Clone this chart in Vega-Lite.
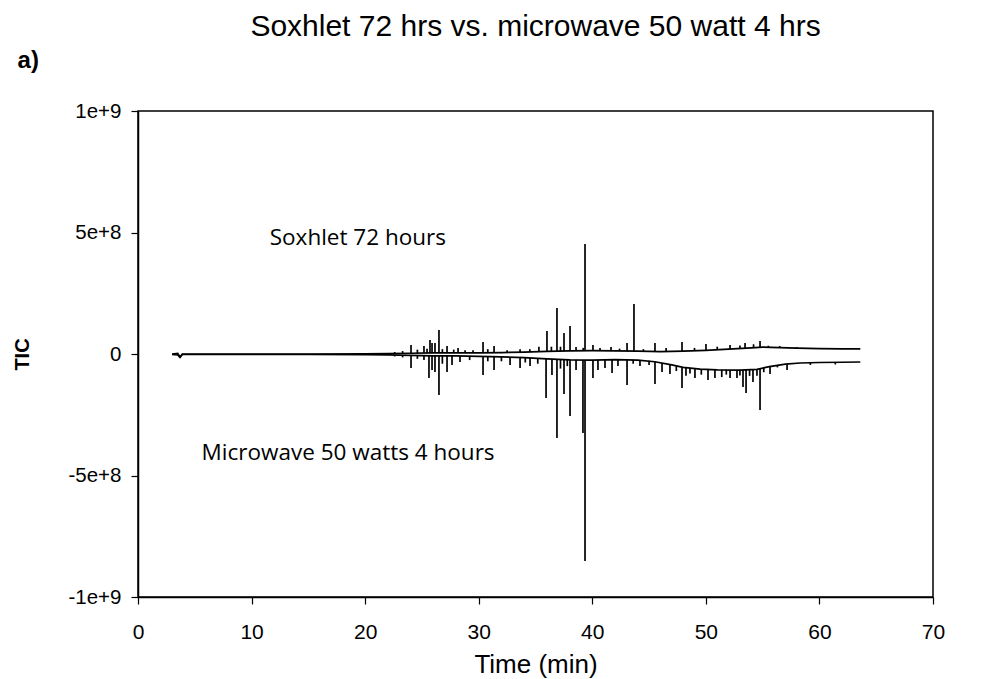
{
  "$schema": "https://vega.github.io/schema/vega-lite/v6.json",
  "width": 795,
  "height": 486,
  "autosize": "none",
  "padding": {"left": 138, "top": 111, "right": 64, "bottom": 82},
  "background": "white",
  "config": {
    "view": {"stroke": "black", "strokeWidth": 1.5},
    "font": "Liberation Sans"
  },
  "title": {
    "text": "Soxhlet 72 hrs vs. microwave 50 watt 4 hrs",
    "font": "Liberation Sans",
    "fontSize": 30,
    "fontWeight": "normal",
    "color": "black",
    "anchor": "middle",
    "offset": 7
  },
  "datasets": {
    "baseline": [
      {"t": 3.0, "v": 0, "series": "Soxhlet"},
      {"t": 3.5, "v": 2000000, "series": "Soxhlet"},
      {"t": 3.7, "v": -12000000, "series": "Soxhlet"},
      {"t": 3.9, "v": 0, "series": "Soxhlet"},
      {"t": 5, "v": 0, "series": "Soxhlet"},
      {"t": 10, "v": 0, "series": "Soxhlet"},
      {"t": 15, "v": 0, "series": "Soxhlet"},
      {"t": 20, "v": 1000000, "series": "Soxhlet"},
      {"t": 22, "v": 2000000, "series": "Soxhlet"},
      {"t": 24, "v": 3000000, "series": "Soxhlet"},
      {"t": 26, "v": 5000000, "series": "Soxhlet"},
      {"t": 28, "v": 5000000, "series": "Soxhlet"},
      {"t": 30, "v": 5000000, "series": "Soxhlet"},
      {"t": 32, "v": 6000000, "series": "Soxhlet"},
      {"t": 34, "v": 8000000, "series": "Soxhlet"},
      {"t": 36, "v": 11000000, "series": "Soxhlet"},
      {"t": 38, "v": 13000000, "series": "Soxhlet"},
      {"t": 40, "v": 14000000, "series": "Soxhlet"},
      {"t": 42, "v": 13000000, "series": "Soxhlet"},
      {"t": 44, "v": 12000000, "series": "Soxhlet"},
      {"t": 46, "v": 10000000, "series": "Soxhlet"},
      {"t": 48, "v": 12000000, "series": "Soxhlet"},
      {"t": 50, "v": 15000000, "series": "Soxhlet"},
      {"t": 52, "v": 20000000, "series": "Soxhlet"},
      {"t": 54, "v": 25000000, "series": "Soxhlet"},
      {"t": 55, "v": 28000000, "series": "Soxhlet"},
      {"t": 56.5, "v": 26000000, "series": "Soxhlet"},
      {"t": 58, "v": 24000000, "series": "Soxhlet"},
      {"t": 60, "v": 22000000, "series": "Soxhlet"},
      {"t": 62, "v": 21000000, "series": "Soxhlet"},
      {"t": 63.6, "v": 21000000, "series": "Soxhlet"},
      {"t": 3.0, "v": -2000000, "series": "Microwave"},
      {"t": 3.5, "v": -4000000, "series": "Microwave"},
      {"t": 3.7, "v": -14000000, "series": "Microwave"},
      {"t": 3.9, "v": -2000000, "series": "Microwave"},
      {"t": 5, "v": -2000000, "series": "Microwave"},
      {"t": 10, "v": -2000000, "series": "Microwave"},
      {"t": 15, "v": -2000000, "series": "Microwave"},
      {"t": 20, "v": -3000000, "series": "Microwave"},
      {"t": 22, "v": -4000000, "series": "Microwave"},
      {"t": 24, "v": -6000000, "series": "Microwave"},
      {"t": 26, "v": -8000000, "series": "Microwave"},
      {"t": 28, "v": -8000000, "series": "Microwave"},
      {"t": 30, "v": -10000000, "series": "Microwave"},
      {"t": 32, "v": -12000000, "series": "Microwave"},
      {"t": 34, "v": -15000000, "series": "Microwave"},
      {"t": 36, "v": -20000000, "series": "Microwave"},
      {"t": 38, "v": -24000000, "series": "Microwave"},
      {"t": 40, "v": -25000000, "series": "Microwave"},
      {"t": 42, "v": -23000000, "series": "Microwave"},
      {"t": 44, "v": -25000000, "series": "Microwave"},
      {"t": 45.5, "v": -32000000, "series": "Microwave"},
      {"t": 47, "v": -45000000, "series": "Microwave"},
      {"t": 48, "v": -55000000, "series": "Microwave"},
      {"t": 49.5, "v": -62000000, "series": "Microwave"},
      {"t": 51, "v": -65000000, "series": "Microwave"},
      {"t": 53, "v": -66000000, "series": "Microwave"},
      {"t": 54.5, "v": -63000000, "series": "Microwave"},
      {"t": 55.6, "v": -52000000, "series": "Microwave"},
      {"t": 57, "v": -42000000, "series": "Microwave"},
      {"t": 58.3, "v": -37000000, "series": "Microwave"},
      {"t": 60, "v": -35000000, "series": "Microwave"},
      {"t": 62, "v": -34000000, "series": "Microwave"},
      {"t": 63.6, "v": -33000000, "series": "Microwave"}
    ],
    "peaks": [
      {"t": 22.6, "base": 2000000, "peak": 8000000},
      {"t": 23.3, "base": 2000000, "peak": 12000000},
      {"t": 24.04, "base": 3000000, "peak": 37000000},
      {"t": 24.6, "base": 4000000, "peak": 18000000},
      {"t": 25.18, "base": 5000000, "peak": 33000000},
      {"t": 25.45, "base": 5000000, "peak": 22000000},
      {"t": 25.71, "base": 5000000, "peak": 58000000},
      {"t": 25.89, "base": 5000000, "peak": 45000000},
      {"t": 26.15, "base": 5000000, "peak": 45000000},
      {"t": 26.5, "base": 5000000, "peak": 99000000},
      {"t": 26.8, "base": 5000000, "peak": 20000000},
      {"t": 27.21, "base": 5000000, "peak": 33000000},
      {"t": 27.8, "base": 5000000, "peak": 18000000},
      {"t": 28.18, "base": 5000000, "peak": 25000000},
      {"t": 28.8, "base": 5000000, "peak": 15000000},
      {"t": 29.5, "base": 5000000, "peak": 15000000},
      {"t": 30.38, "base": 5000000, "peak": 49000000},
      {"t": 30.8, "base": 5000000, "peak": 20000000},
      {"t": 31.35, "base": 6000000, "peak": 33000000},
      {"t": 32.5, "base": 6000000, "peak": 15000000},
      {"t": 33.64, "base": 7000000, "peak": 20000000},
      {"t": 34.5, "base": 8000000, "peak": 20000000},
      {"t": 35.3, "base": 10000000, "peak": 30000000},
      {"t": 36.01, "base": 11000000, "peak": 95000000},
      {"t": 36.4, "base": 12000000, "peak": 30000000},
      {"t": 36.89, "base": 12000000, "peak": 189000000},
      {"t": 37.2, "base": 12000000, "peak": 30000000},
      {"t": 37.51, "base": 12000000, "peak": 86000000},
      {"t": 38.04, "base": 13000000, "peak": 115000000},
      {"t": 38.57, "base": 13000000, "peak": 29000000},
      {"t": 39.2, "base": 14000000, "peak": 25000000},
      {"t": 39.36, "base": 14000000, "peak": 453000000},
      {"t": 40.06, "base": 14000000, "peak": 37000000},
      {"t": 40.68, "base": 14000000, "peak": 25000000},
      {"t": 41.65, "base": 13000000, "peak": 29000000},
      {"t": 42.4, "base": 13000000, "peak": 22000000},
      {"t": 43.06, "base": 12000000, "peak": 45000000},
      {"t": 43.67, "base": 12000000, "peak": 206000000},
      {"t": 44.5, "base": 11000000, "peak": 20000000},
      {"t": 45.52, "base": 10000000, "peak": 45000000},
      {"t": 46.5, "base": 10000000, "peak": 25000000},
      {"t": 47.9, "base": 12000000, "peak": 49000000},
      {"t": 49.0, "base": 13000000, "peak": 25000000},
      {"t": 50.01, "base": 15000000, "peak": 41000000},
      {"t": 51.0, "base": 17000000, "peak": 30000000},
      {"t": 52.13, "base": 20000000, "peak": 37000000},
      {"t": 53.0, "base": 22000000, "peak": 35000000},
      {"t": 53.45, "base": 24000000, "peak": 45000000},
      {"t": 54.2, "base": 25000000, "peak": 40000000},
      {"t": 54.77, "base": 28000000, "peak": 53000000},
      {"t": 55.5, "base": 27000000, "peak": 34000000},
      {"t": 56.5, "base": 26000000, "peak": 33000000},
      {"t": 58.0, "base": 24000000, "peak": 28000000},
      {"t": 22.6, "base": -4000000, "peak": -10000000},
      {"t": 23.3, "base": -5000000, "peak": -14000000},
      {"t": 24.04, "base": -6000000, "peak": -58000000},
      {"t": 24.6, "base": -7000000, "peak": -20000000},
      {"t": 25.18, "base": -8000000, "peak": -25000000},
      {"t": 25.62, "base": -8000000, "peak": -99000000},
      {"t": 25.89, "base": -8000000, "peak": -66000000},
      {"t": 26.15, "base": -8000000, "peak": -74000000},
      {"t": 26.5, "base": -8000000, "peak": -169000000},
      {"t": 26.8, "base": -8000000, "peak": -40000000},
      {"t": 27.21, "base": -8000000, "peak": -74000000},
      {"t": 27.65, "base": -8000000, "peak": -45000000},
      {"t": 28.35, "base": -8000000, "peak": -33000000},
      {"t": 29.2, "base": -9000000, "peak": -25000000},
      {"t": 30.38, "base": -10000000, "peak": -86000000},
      {"t": 30.8, "base": -10000000, "peak": -30000000},
      {"t": 31.35, "base": -11000000, "peak": -66000000},
      {"t": 32.0, "base": -12000000, "peak": -30000000},
      {"t": 32.76, "base": -13000000, "peak": -45000000},
      {"t": 33.64, "base": -14000000, "peak": -58000000},
      {"t": 34.1, "base": -15000000, "peak": -35000000},
      {"t": 34.52, "base": -16000000, "peak": -49000000},
      {"t": 35.2, "base": -18000000, "peak": -40000000},
      {"t": 35.93, "base": -20000000, "peak": -181000000},
      {"t": 36.45, "base": -21000000, "peak": -86000000},
      {"t": 36.89, "base": -22000000, "peak": -346000000},
      {"t": 37.2, "base": -22000000, "peak": -60000000},
      {"t": 37.51, "base": -23000000, "peak": -165000000},
      {"t": 37.8, "base": -23000000, "peak": -50000000},
      {"t": 38.04, "base": -24000000, "peak": -255000000},
      {"t": 38.57, "base": -24000000, "peak": -66000000},
      {"t": 39.18, "base": -25000000, "peak": -325000000},
      {"t": 39.36, "base": -25000000, "peak": -852000000},
      {"t": 40.06, "base": -25000000, "peak": -99000000},
      {"t": 40.5, "base": -25000000, "peak": -66000000},
      {"t": 41.12, "base": -24000000, "peak": -58000000},
      {"t": 41.74, "base": -24000000, "peak": -78000000},
      {"t": 42.26, "base": -23000000, "peak": -49000000},
      {"t": 43.06, "base": -23000000, "peak": -128000000},
      {"t": 43.6, "base": -24000000, "peak": -40000000},
      {"t": 44.2, "base": -25000000, "peak": -49000000},
      {"t": 45.0, "base": -28000000, "peak": -45000000},
      {"t": 45.52, "base": -32000000, "peak": -123000000},
      {"t": 46.14, "base": -38000000, "peak": -74000000},
      {"t": 46.84, "base": -44000000, "peak": -82000000},
      {"t": 47.4, "base": -50000000, "peak": -70000000},
      {"t": 47.9, "base": -54000000, "peak": -140000000},
      {"t": 48.25, "base": -56000000, "peak": -90000000},
      {"t": 48.6, "base": -58000000, "peak": -80000000},
      {"t": 49.04, "base": -60000000, "peak": -99000000},
      {"t": 49.6, "base": -62000000, "peak": -85000000},
      {"t": 50.19, "base": -63000000, "peak": -107000000},
      {"t": 50.8, "base": -64000000, "peak": -99000000},
      {"t": 51.4, "base": -65000000, "peak": -95000000},
      {"t": 51.8, "base": -65000000, "peak": -85000000},
      {"t": 52.13, "base": -66000000, "peak": -99000000},
      {"t": 52.74, "base": -66000000, "peak": -99000000},
      {"t": 53.0, "base": -66000000, "peak": -88000000},
      {"t": 53.27, "base": -66000000, "peak": -136000000},
      {"t": 53.54, "base": -65000000, "peak": -160000000},
      {"t": 53.85, "base": -64000000, "peak": -90000000},
      {"t": 54.15, "base": -63000000, "peak": -115000000},
      {"t": 54.5, "base": -63000000, "peak": -90000000},
      {"t": 54.77, "base": -60000000, "peak": -230000000},
      {"t": 55.1, "base": -56000000, "peak": -75000000},
      {"t": 55.65, "base": -52000000, "peak": -82000000},
      {"t": 56.3, "base": -46000000, "peak": -55000000},
      {"t": 57.15, "base": -42000000, "peak": -66000000},
      {"t": 59.2, "base": -35000000, "peak": -45000000},
      {"t": 61.4, "base": -34000000, "peak": -43000000}
    ],
    "labels": [
      {"t": 11.6, "v": 477000000, "label": "Soxhlet 72 hours"},
      {"t": 5.6, "v": -407000000, "label": "Microwave 50 watts 4 hours"}
    ],
    "panel": [
      {"t": -10.6, "v": 1205000000, "label": "a)"}
    ]
  },
  "encoding": {
    "x": {
      "field": "t",
      "type": "quantitative",
      "scale": {"domain": [0, 70], "nice": false, "zero": false},
      "axis": {
        "values": [0, 10, 20, 30, 40, 50, 60, 70],
        "grid": false,
        "labelFlush": false,
        "domainColor": "black",
        "domainWidth": 1.5,
        "tickColor": "black",
        "tickSize": 7,
        "tickWidth": 1.2,
        "labelColor": "black",
        "labelFont": "Liberation Sans",
        "labelFontSize": 21,
        "labelPadding": 17,
        "title": "Time (min)",
        "titleFont": "Liberation Sans",
        "titleFontSize": 26,
        "titleFontWeight": "normal",
        "titleColor": "black",
        "titleX": 397.5,
        "titleY": 67,
        "titleAlign": "center",
        "titleBaseline": "middle"
      }
    }
  },
  "layer": [
    {
      "data": {"name": "baseline"},
      "mark": {"type": "line", "color": "black", "strokeWidth": 1.7, "clip": true},
      "encoding": {
        "y": {
          "field": "v",
          "type": "quantitative",
          "scale": {"domain": [-1000000000, 1000000000], "nice": false, "zero": false},
          "axis": {
            "values": [-1000000000, -500000000, 0, 500000000, 1000000000],
            "labelExpr": "datum.value == 0 ? '0' : (datum.value < 0 ? '-' : '') + (abs(datum.value) >= 1000000000 ? '1e+9' : '5e+8')",
            "grid": false,
            "labelFlush": false,
            "domainColor": "black",
            "domainWidth": 1.5,
            "tickColor": "black",
            "tickSize": 7,
            "tickWidth": 1.2,
            "labelColor": "black",
            "labelFont": "Liberation Sans",
            "labelFontSize": 20.5,
            "labelPadding": 10,
            "title": "TIC",
            "titleFont": "Liberation Sans",
            "titleFontSize": 20,
            "titleFontWeight": "bold",
            "titleColor": "black",
            "titleX": -116,
            "titleY": 243,
            "titleAngle": -90,
            "titleAlign": "center",
            "titleBaseline": "middle"
          }
        },
        "detail": {"field": "series", "type": "nominal"}
      }
    },
    {
      "data": {"name": "peaks"},
      "mark": {"type": "rule", "color": "black", "strokeWidth": 1.7, "clip": true},
      "encoding": {
        "y": {"field": "base", "type": "quantitative"},
        "y2": {"field": "peak"}
      }
    },
    {
      "data": {"name": "labels"},
      "mark": {"type": "text", "font": "Open Sans", "fontSize": 22.5, "color": "black", "align": "left", "baseline": "middle"},
      "encoding": {
        "y": {"field": "v", "type": "quantitative"},
        "text": {"field": "label"}
      }
    },
    {
      "data": {"name": "panel"},
      "mark": {"type": "text", "font": "Liberation Sans", "fontSize": 24, "fontWeight": "bold", "color": "black", "align": "left", "baseline": "middle"},
      "encoding": {
        "y": {"field": "v", "type": "quantitative"},
        "text": {"field": "label"}
      }
    }
  ]
}
